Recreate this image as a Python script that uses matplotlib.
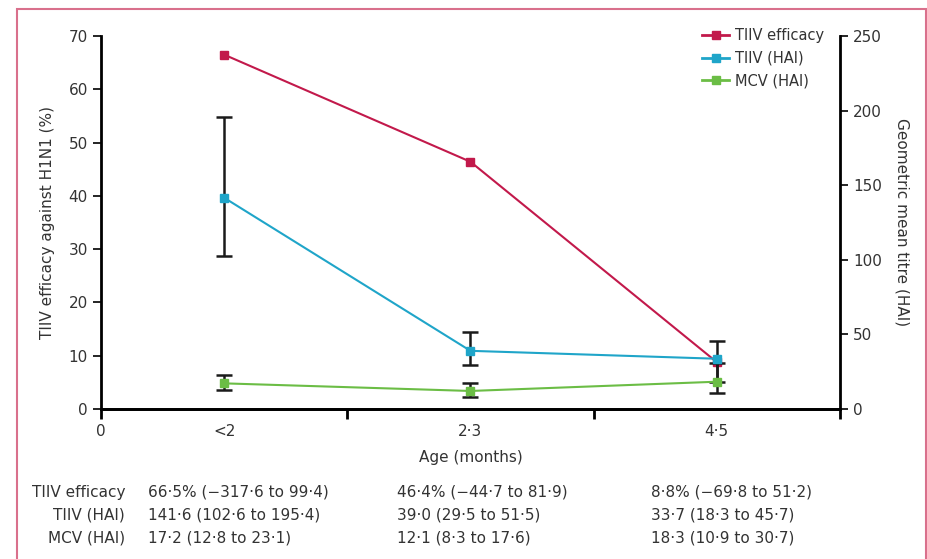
import matplotlib.pyplot as plt
from matplotlib.lines import Line2D
from matplotlib.patches import Rectangle

# data
x_pos = [1, 3, 5]
age_labels = ['<2', '2·3', '4·5']

efficacy = [66.5, 46.4, 8.8]

tiiv_hai = [141.6, 39.0, 33.7]
tiiv_lo = [102.6, 29.5, 18.3]
tiiv_hi = [195.4, 51.5, 45.7]

mcv_hai = [17.2, 12.1, 18.3]
mcv_lo = [12.8, 8.3, 10.9]
mcv_hi = [23.1, 17.6, 30.7]

row_labels = ['TIIV efficacy', 'TIIV (HAI)', 'MCV (HAI)']
table_cells = [
    ['66·5% (−317·6 to 99·4)', '46·4% (−44·7 to 81·9)', '8·8% (−69·8 to 51·2)'],
    ['141·6 (102·6 to 195·4)', '39·0 (29·5 to 51·5)', '33·7 (18·3 to 45·7)'],
    ['17·2 (12·8 to 23·1)', '12·1 (8·3 to 17·6)', '18·3 (10·9 to 30·7)'],
]

red = '#c2194b'
cyan = '#1fa5c9'
green = '#6bbd45'
txt = '#333333'

fig = plt.figure(figsize=(9.28, 5.59), dpi=100)
ax = fig.add_axes([0.1088, 0.2683, 0.7963, 0.6673])
ax2 = ax.twinx()

ax.set_xlim(0, 6)
ax.set_ylim(0, 70)
ax2.set_ylim(0, 250)

ax.plot(x_pos, efficacy, color=red, lw=1.5, marker='s', ms=5.5, zorder=3)

err_t = [[v - l for v, l in zip(tiiv_hai, tiiv_lo)], [h - v for v, h in zip(tiiv_hai, tiiv_hi)]]
err_m = [[v - l for v, l in zip(mcv_hai, mcv_lo)], [h - v for v, h in zip(mcv_hai, mcv_hi)]]
ax2.errorbar(x_pos, tiiv_hai, yerr=err_t, fmt='none', ecolor='#1a1a1a', elinewidth=1.8, capsize=6, capthick=1.8)
ax2.errorbar(x_pos, mcv_hai, yerr=err_m, fmt='none', ecolor='#1a1a1a', elinewidth=1.8, capsize=6, capthick=1.8)
ax2.plot(x_pos, tiiv_hai, color=cyan, lw=1.5, marker='s', ms=5.5, zorder=3)
ax2.plot(x_pos, mcv_hai, color=green, lw=1.5, marker='s', ms=5.5, zorder=3)

for a in (ax, ax2):
    a.spines['top'].set_visible(False)
    a.spines['left'].set_linewidth(2)
    a.spines['bottom'].set_linewidth(2)
    a.spines['right'].set_linewidth(2)
ax.spines['right'].set_visible(False)
ax2.spines['left'].set_visible(False)

ax.set_xticks([0, 2, 4, 6])
ax.set_xticklabels(['0', '', '', ''])
ax.set_xticks(x_pos, minor=True)
ax.set_xticklabels(age_labels, minor=True)
ax.tick_params(axis='x', which='major', direction='out', length=7, width=2, labelsize=11, labelcolor=txt, pad=4)
ax.tick_params(axis='x', which='minor', length=0, labelsize=11, labelcolor=txt, pad=11)

ax.set_yticks(range(0, 71, 10))
ax.tick_params(axis='y', direction='out', length=6, width=1.2, labelsize=11, labelcolor=txt)
ax2.set_yticks(range(0, 251, 50))
ax2.tick_params(axis='y', direction='out', length=6, width=1.2, labelsize=11, labelcolor=txt)

ax.set_xlabel('Age (months)', fontsize=11, color=txt, labelpad=8)
ax.set_ylabel('TIIV efficacy against H1N1 (%)', fontsize=11, color=txt, labelpad=10)
ax2.set_ylabel('Geometric mean titre (HAI)', fontsize=11, color=txt, rotation=270, labelpad=20)

handles = [Line2D([], [], color=c, lw=2, marker='s', ms=5.5) for c in (red, cyan, green)]
fig.legend(handles, row_labels, loc='upper left', bbox_to_anchor=(0.742, 0.9725), frameon=False,
           fontsize=10.5, handlelength=1.9, handletextpad=0.4, labelspacing=0.5, labelcolor=txt)

# table under the chart
row_y = [492, 515, 538]
col_x = [148, 397, 651]
for r, (lab, cells) in enumerate(zip(row_labels, table_cells)):
    y = 1 - row_y[r] / 559
    fig.text(125 / 928, y, lab, ha='right', va='center', fontsize=11, color=txt)
    for c, cell in enumerate(cells):
        fig.text(col_x[c] / 928, y, cell, ha='left', va='center', fontsize=11, color=txt)

fig.patches.append(Rectangle((17 / 928, -0.05), 909 / 928, 1.05 - 9 / 559, transform=fig.transFigure,
                             fill=False, edgecolor='#d9708c', lw=1.5))

fig.savefig('out.png', dpi=100)
